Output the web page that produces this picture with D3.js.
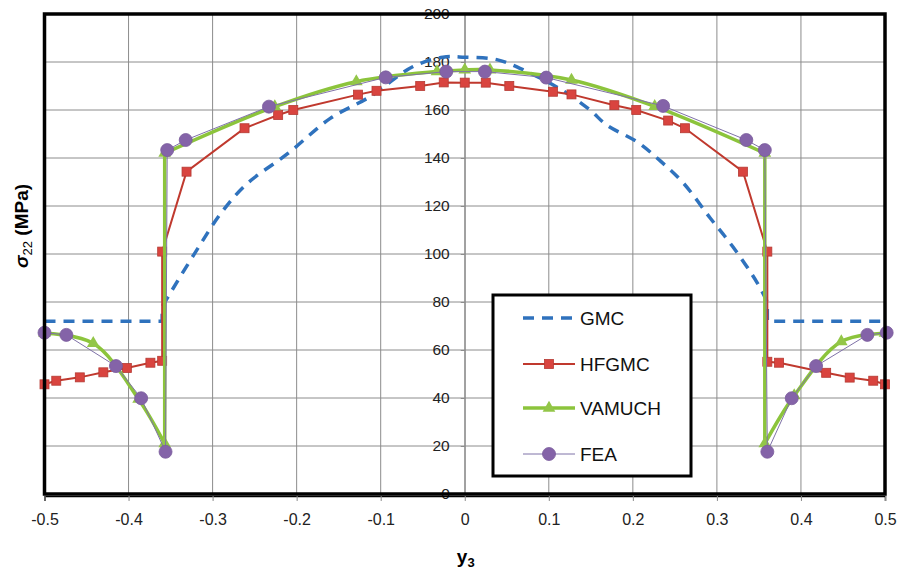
<!DOCTYPE html>
<html>
<head>
<meta charset="utf-8">
<script src="https://cdnjs.cloudflare.com/ajax/libs/d3/7.8.5/d3.min.js"></script>
<style>
  body { margin: 0; background: #fff; }
  text { font-family: "Liberation Sans", Arial, sans-serif; }
</style>
</head>
<body>
<div id="art"></div>
<script type="text/javascript">
// values
var xTicks = [-0.5, -0.4, -0.3, -0.2, -0.1, 0, 0.1, 0.2, 0.3, 0.4, 0.5],
    xTickLabels = ["-0.5", "-0.4", "-0.3", "-0.2", "-0.1", "0", "0.1", "0.2", "0.3", "0.4", "0.5"],
    yTicks = [0, 20, 40, 60, 80, 100, 120, 140, 160, 180, 200];

var gmcX = [-0.5, -0.36, -0.36, -0.355, -0.32, -0.29, -0.26, -0.21, -0.16, -0.113, -0.062, -0.026, 0, 0.038, 0.074, 0.117, 0.149, 0.169, 0.205, 0.232, 0.26, 0.292, 0.319, 0.348, 0.36, 0.36, 0.5],
    gmcY = [72, 72, 78, 81, 101, 117, 129, 142, 156.5, 165.5, 178, 182, 182, 181, 176, 168, 160, 153.7, 146.7, 139, 129.6, 115, 103, 88, 80, 72, 72];

var hfX = [-0.5, -0.486, -0.458, -0.43, -0.402, -0.374, -0.36, -0.36, -0.331, -0.262, -0.222, -0.204, -0.127, -0.105, -0.053, -0.025, 0, 0.025, 0.053, 0.105, 0.127, 0.178, 0.204, 0.242, 0.262, 0.331, 0.36, 0.36, 0.374, 0.43, 0.458, 0.486, 0.5],
    hfY = [45.7, 47.2, 48.6, 50.7, 52.5, 54.7, 55.5, 101, 134.3, 152.4, 157.9, 160, 166.4, 168, 170, 171.5, 171.4, 171.4, 170, 167.6, 166.5, 162, 160, 155.6, 152.4, 134.3, 101, 55.1, 54.7, 50.5, 48.5, 47.2, 45.7];

var vaX = [-0.5, -0.442, -0.388, -0.357, -0.357, -0.226, -0.129, -0.033, 0, 0.03, 0.127, 0.226, 0.357, 0.357, 0.392, 0.448, 0.5],
    vaY = [67, 62.8, 39.5, 21, 142, 161.4, 171.8, 176, 176.7, 176.7, 172.5, 161.5, 142, 21, 41, 63.5, 67];

var feX = [-0.5, -0.474, -0.415, -0.385, -0.356, -0.354, -0.332, -0.233, -0.094, -0.022, 0.024, 0.097, 0.236, 0.335, 0.357, 0.36, 0.389, 0.418, 0.479, 0.502],
    feY = [67.2, 66.3, 53.3, 39.9, 17.6, 143.3, 147.5, 161.4, 173.6, 176, 176, 173.5, 161.7, 147.5, 143.3, 17.6, 39.9, 53.3, 66.3, 67.2];

var names = ["GMC", "HFGMC", "VAMUCH", "FEA"];

var w = 902, h = 569;

var x = d3.scaleLinear().domain([-0.5, 0.5]).range([44.5, 885]),
    y = d3.scaleLinear().domain([0, 200]).range([494, 14]);

var svg = d3.select("#art").append("svg")
    .attr("width", w)
    .attr("height", h);

function pts(xs, ys) {
  return xs.map(function(d, i) { return [d, ys[i]]; });
}

// grid
svg.append("g").selectAll("line")
    .data(xTicks.slice(1, -1))
  .enter().append("line")
    .attr("x1", function(d) { return x(d); })
    .attr("x2", function(d) { return x(d); })
    .attr("y1", y(200))
    .attr("y2", y(0))
    .style("stroke", "#8c8c8c")
    .style("stroke-width", 1);

svg.append("g").selectAll("line")
    .data(yTicks.slice(1, -1))
  .enter().append("line")
    .attr("x1", x(-0.5))
    .attr("x2", x(0.5))
    .attr("y1", function(d) { return y(d); })
    .attr("y2", function(d) { return y(d); })
    .style("stroke", "#8c8c8c")
    .style("stroke-width", 1);

// y axis sits at y3 = 0
var yAxis = svg.append("g")
    .attr("transform", "translate(" + x(0) + ",0)")
    .call(d3.axisLeft(y).tickValues(yTicks).tickSize(4).tickPadding(11).tickFormat(d3.format("d")));
yAxis.selectAll("path, line").style("stroke", "#8c8c8c");
yAxis.selectAll("text").style("font-size", "15.5px").style("fill", "#222").style("font-family", "Liberation Sans, Arial, sans-serif");

var xAxis = svg.append("g")
    .attr("transform", "translate(0," + (y(0) + 2) + ")")
    .call(d3.axisBottom(x).tickValues(xTicks).tickSize(5).tickPadding(13)
      .tickFormat(function(d, i) { return xTickLabels[i]; }));
xAxis.select("path").style("stroke", "#000").style("stroke-width", 1.5);
xAxis.selectAll("line").style("stroke", "#8c8c8c");
xAxis.selectAll("text").style("font-size", "16px").style("fill", "#222").style("font-family", "Liberation Sans, Arial, sans-serif");

// series: smooth between the jumps, straight across the jumps
var smooth = d3.line()
    .curve(d3.curveCatmullRom.alpha(0.5))
    .x(function(d) { return x(d[0]); })
    .y(function(d) { return y(d[1]); });
var line = d3.line()
    .x(function(d) { return x(d[0]); })
    .y(function(d) { return y(d[1]); });

function pieces(p) {
  var out = [], cur = [p[0]];
  for (var i = 1; i < p.length; i++) {
    if (p[i][0] === p[i - 1][0]) {
      out.push(cur);
      out.push([p[i - 1], p[i]]);
      cur = [p[i]];
    } else {
      cur.push(p[i]);
    }
  }
  out.push(cur);
  return out.map(function(s) { return smooth(s); }).join("");
}

function joined(p) {
  // single path so dashes run on
  var segs = [], cur = [p[0]];
  for (var i = 1; i < p.length; i++) {
    if (p[i][0] === p[i - 1][0]) { segs.push(cur); cur = [p[i]]; }
    else cur.push(p[i]);
  }
  segs.push(cur);
  var d = "";
  segs.forEach(function(s, k) {
    var sd = smooth(s);
    if (k > 0) sd = "L" + sd.slice(1);
    d += sd;
  });
  return d;
}

svg.append("path")
    .attr("d", joined(pts(gmcX, gmcY)))
    .style("fill", "none")
    .style("stroke", "#2f72bd")
    .style("stroke-width", 3.5)
    .style("stroke-dasharray", "11,8");

var hf = pts(hfX, hfY);
svg.append("path")
    .datum(hf)
    .attr("d", line)
    .style("fill", "none")
    .style("stroke", "#c0392e")
    .style("stroke-width", 2);
svg.append("g").selectAll("rect")
    .data(hf)
  .enter().append("rect")
    .attr("x", function(d) { return x(d[0]) - 4.5; })
    .attr("y", function(d) { return y(d[1]) - 4.5; })
    .attr("width", 9)
    .attr("height", 9)
    .style("fill", "#d9443f")
    .style("stroke", "#b53a33")
    .style("stroke-width", 0.8);

var va = pts(vaX, vaY);
svg.append("path")
    .attr("d", joined(va))
    .style("fill", "none")
    .style("stroke", "#8cc43c")
    .style("stroke-width", 3.5);
svg.append("g").selectAll("path")
    .data(va)
  .enter().append("path")
    .attr("transform", function(d) { return "translate(" + x(d[0]) + "," + y(d[1]) + ")"; })
    .attr("d", d3.symbol().type(d3.symbolTriangle).size(70))
    .style("fill", "#93c648");

var fe = pts(feX, feY);
svg.append("path")
    .datum(fe)
    .attr("d", line)
    .style("fill", "none")
    .style("stroke", "#7f72a8")
    .style("stroke-width", 1);
svg.append("g").selectAll("circle")
    .data(fe)
  .enter().append("circle")
    .attr("cx", function(d) { return x(d[0]); })
    .attr("cy", function(d) { return y(d[1]); })
    .attr("r", 6.5)
    .style("fill", "#8463a8")
    .style("stroke", "#7a5c9c")
    .style("stroke-width", 0.8);

// frame
svg.append("rect")
    .attr("x", x(-0.5))
    .attr("y", y(200))
    .attr("width", x(0.5) - x(-0.5))
    .attr("height", y(0) - y(200))
    .style("fill", "none")
    .style("stroke", "#000")
    .style("stroke-width", 3.5);

// legend
var lg = svg.append("g").attr("transform", "translate(493,295)");
lg.append("rect")
    .attr("width", 198)
    .attr("height", 181)
    .style("fill", "#fff")
    .style("stroke", "#000")
    .style("stroke-width", 3);

var rows = [23, 69, 113, 159];
lg.append("line").attr("x1", 30).attr("x2", 82).attr("y1", rows[0]).attr("y2", rows[0])
    .style("stroke", "#2f72bd").style("stroke-width", 3.5).style("stroke-dasharray", "11,8");
lg.append("line").attr("x1", 30).attr("x2", 82).attr("y1", rows[1]).attr("y2", rows[1])
    .style("stroke", "#c0392e").style("stroke-width", 2);
lg.append("rect").attr("x", 51.5).attr("y", rows[1] - 4.5).attr("width", 9).attr("height", 9)
    .style("fill", "#d9443f").style("stroke", "#b53a33").style("stroke-width", 0.8);
lg.append("line").attr("x1", 30).attr("x2", 82).attr("y1", rows[2]).attr("y2", rows[2])
    .style("stroke", "#8cc43c").style("stroke-width", 3.5);
lg.append("path").attr("transform", "translate(56," + rows[2] + ")")
    .attr("d", d3.symbol().type(d3.symbolTriangle).size(70))
    .style("fill", "#93c648");
lg.append("line").attr("x1", 30).attr("x2", 82).attr("y1", rows[3]).attr("y2", rows[3])
    .style("stroke", "#7f72a8").style("stroke-width", 1);
lg.append("circle").attr("cx", 56).attr("cy", rows[3]).attr("r", 6.5)
    .style("fill", "#8463a8").style("stroke", "#7a5c9c").style("stroke-width", 0.8);

lg.selectAll("text.lab")
    .data(names)
  .enter().append("text")
    .attr("class", "lab")
    .attr("x", 87)
    .attr("y", function(d, i) { return rows[i]; })
    .attr("dy", "0.35em")
    .style("font-size", "19px")
    .style("fill", "#111")
    .text(function(d) { return d; });

// axis titles
var xt = svg.append("text")
    .attr("x", x(0) + 1)
    .attr("y", 563)
    .attr("text-anchor", "middle")
    .style("font-size", "19px")
    .style("font-weight", "bold");
xt.append("tspan").text("y");
xt.append("tspan").attr("dy", 4).style("font-size", "13px").text("3");

var yt = svg.append("text")
    .attr("transform", "translate(28,226) rotate(-90)")
    .attr("text-anchor", "middle")
    .style("font-size", "19px")
    .style("font-weight", "bold");
yt.append("tspan").style("font-style", "italic").text("σ");
yt.append("tspan").attr("dy", 4).style("font-size", "13px").style("font-weight", "normal").text("22");
yt.append("tspan").attr("dy", -4).text(" (MPa)");
</script>
</body>
</html>
